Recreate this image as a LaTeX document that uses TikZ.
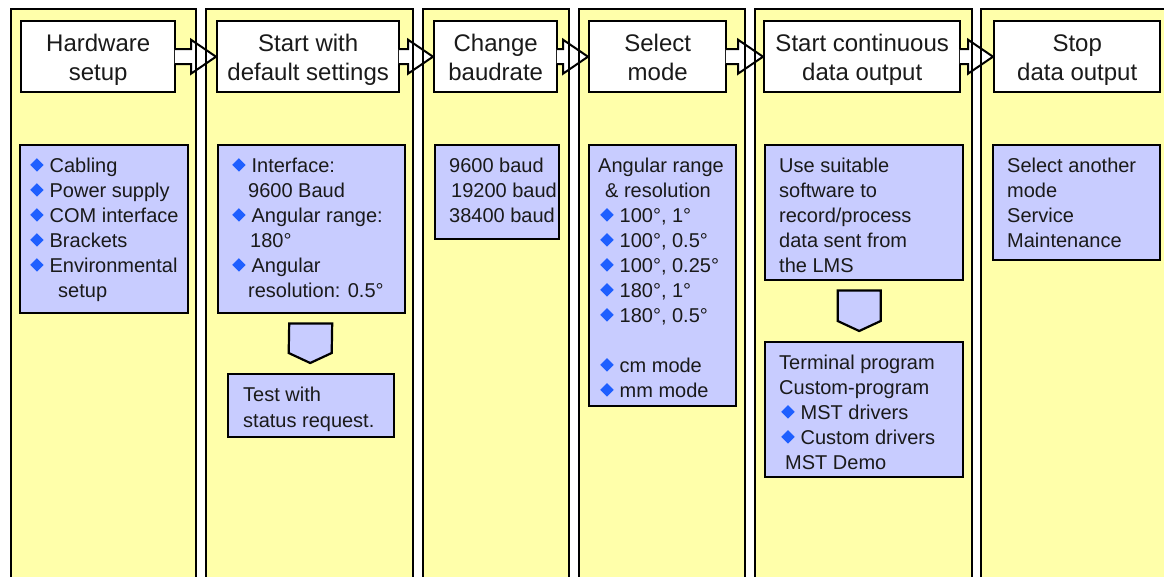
\documentclass[tikz,border=0pt]{standalone}
\usepackage{fontspec}
\setmainfont{Liberation Sans}
\usepackage{graphicx}
\usetikzlibrary{calc}

\definecolor{panelyellow}{HTML}{FFFFAA}
\definecolor{cardblue}{HTML}{C8CCFF}
\definecolor{bulletblue}{HTML}{1F5FFF}
\definecolor{inkgray}{HTML}{1A1A1A}

% blue diamond bullet
\newcommand\bul{\textcolor{bulletblue}{\raisebox{0.6pt}{\rotatebox{45}{\rule{9.5pt}{9.5pt}}}}\hspace*{6pt}}
% first-line strut so every text block has a fixed top
\newcommand\firstline{\rule{0pt}{15pt}}
% struts giving every two-line header the same vertical extent
\newcommand\headtop{\rule{0pt}{24pt}}
\newcommand\headbot{\rule[-6pt]{0pt}{6pt}}

% block arrow between two header boxes
\newcommand\flowarrow[2]{%
  \filldraw[flowarrowstyle]
    ($(#1.east)+(-1.5,-7.5)$) -- ($(#2.west)+(-25,-7.5)$) --
    ($(#2.west)+(-25,-17)$) -- (#2.west) --
    ($(#2.west)+(-25,17)$) -- ($(#2.west)+(-25,7.5)$) --
    ($(#1.east)+(-1.5,7.5)$);}

% pentagon arrow pointing from one card down to the next
\newcommand\flowdown[3]{%
  \filldraw[downarrowstyle]
    ($(#1.south)+(#3-21.5,9)$) -- ($(#1.south)+(#3+21.5,9)$) --
    ($(#2.north)+(#3+21.5,-20)$) -- ($(#2.north)+(#3,-10)$) --
    ($(#2.north)+(#3-21.5,-20)$) -- cycle;}

\begin{document}
\begin{tikzpicture}[x=1pt,y=-1pt,
  panelfill/.style={fill=panelyellow},
  panelline/.style={draw=black, line width=2.2pt},
  head/.style={draw=black, line width=2.4pt, fill=white, anchor=north west,
    inner sep=0pt, align=center, text=inkgray,
    font=\fontsize{24}{29}\selectfont},
  card/.style={draw=black, line width=2.4pt, fill=cardblue, anchor=north west, inner sep=0pt},
  cardtext/.style={anchor=north west, inner sep=0pt, align=left, text=inkgray,
    font=\fontsize{20}{25}\selectfont},
  flowarrowstyle/.style={draw=black, line width=2pt, fill=white, line join=miter},
  downarrowstyle/.style={draw=black, line width=2.2pt, fill=cardblue, line join=miter},
]
\useasboundingbox (0,0) rectangle (1164,576);
\clip (0,0) rectangle (1164,576);
\fill[white] (0,0) rectangle (1164,576);

% yellow column panels
\foreach \a/\b in {11/196, 206/413, 423/569, 579/745, 755/972, 981/1175}
  \fill[panelfill] (\a,9) rectangle (\b,600);

% step headers
\node[head, minimum width=154pt, minimum height=71pt] (h1) at (20,20) {\headtop Hardware\\setup\headbot};
\node[head, minimum width=182pt, minimum height=71pt] (h2) at (216,20) {\headtop Start with\\default settings\headbot};
\node[head, minimum width=123pt, minimum height=71pt] (h3) at (433,20) {\headtop Change\\baudrate\headbot};
\node[head, minimum width=137pt, minimum height=71pt] (h4) at (588,20) {\headtop Select\\mode\headbot};
\node[head, minimum width=196pt, minimum height=71pt] (h5) at (763,20) {\headtop Start continuous\\data output\headbot};
\node[head, minimum width=166pt, minimum height=71pt] (h6) at (993,20) {\headtop Stop\\data output\headbot};

% detail cards
\node[card, minimum width=168pt, minimum height=168pt] (c1) at (19,144) {};
\node[card, minimum width=187pt, minimum height=168pt] (c2) at (217,144) {};
\node[card, minimum width=166pt, minimum height=63pt] (t2) at (227,373) {};
\node[card, minimum width=124pt, minimum height=94pt] (c3) at (434,144) {};
\node[card, minimum width=147pt, minimum height=261pt] (c4) at (588,144) {};
\node[card, minimum width=198pt, minimum height=135pt] (c5) at (764,144) {};
\node[card, minimum width=198pt, minimum height=135pt] (t5) at (764,341) {};
\node[card, minimum width=167pt, minimum height=115pt] (c6) at (992,144) {};

% card texts
\node[cardtext] (c1t) at ($(c1.north west)+(11,13)$)
  {\firstline\bul Cabling\\\bul Power supply\\\bul COM interface\\\bul Brackets\\
   \bul Environmental\\\hspace*{28pt}setup};
\node[cardtext] (c2t) at ($(c2.north west)+(15,13)$)
  {\firstline\bul Interface:\\\hspace*{16pt}9600 Baud\\\bul Angular range:\\
   \hspace*{18pt}180°\\\bul Angular\\\hspace*{16pt}resolution: 0.5°};
\node[cardtext, font=\fontsize{20}{26}\selectfont] (t2t) at ($(t2.north west)+(16,13)$)
  {\firstline Test with\\status request.};
\node[cardtext] (c3t) at ($(c3.north west)+(15,13)$)
  {\firstline 9600 baud\\\hspace*{2pt}19200 baud\\38400 baud};
\node[cardtext] (c4t) at ($(c4.north west)+(10,13)$)
  {\firstline Angular range\\\hspace*{7pt}\& resolution\\
   \hspace*{2pt}\bul 100°, 1°\\\hspace*{2pt}\bul 100°, 0.5°\\\hspace*{2pt}\bul 100°, 0.25°\\
   \hspace*{2pt}\bul 180°, 1°\\\hspace*{2pt}\bul 180°, 0.5°\\[25pt]
   \hspace*{2pt}\bul cm mode\\\hspace*{2pt}\bul mm mode};
\node[cardtext] (c5t) at ($(c5.north west)+(15,13)$)
  {\firstline Use suitable\\software to\\record/process\\data sent from\\the LMS};
\node[cardtext] (t5t) at ($(t5.north west)+(15,13)$)
  {\firstline Terminal program\\Custom-program\\\hspace*{2pt}\bul MST drivers\\
   \hspace*{2pt}\bul Custom drivers\\\hspace*{6pt}MST Demo};
\node[cardtext] (c6t) at ($(c6.north west)+(15,13)$)
  {\firstline Select another\\mode\\Service\\Maintenance};

% connectors
\flowarrow{h1}{h2}
\flowarrow{h2}{h3}
\flowarrow{h3}{h4}
\flowarrow{h4}{h5}
\flowarrow{h5}{h6}
\flowdown{c2}{t2}{-1}
\flowdown{c5}{t5}{-5}

% panel outlines on top
\foreach \a/\b in {11/196, 206/413, 423/569, 579/745, 755/972, 981/1175}
  \draw[panelline] (\a,9) rectangle (\b,600);
\end{tikzpicture}
\end{document}
